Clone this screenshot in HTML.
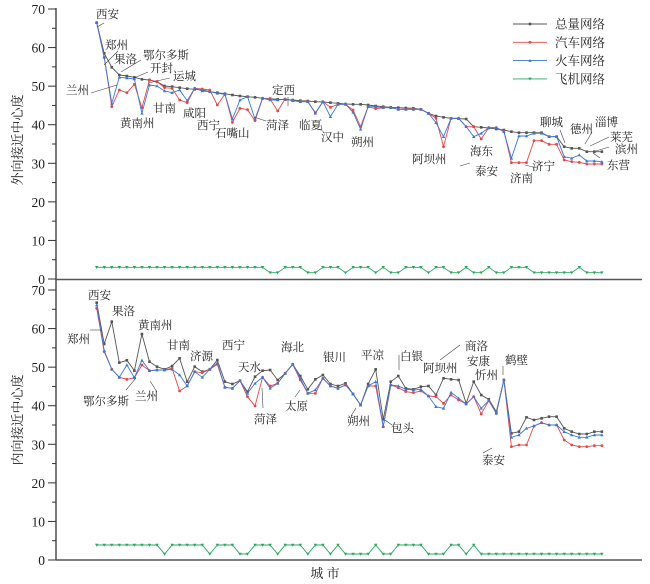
<!DOCTYPE html>
<html><head><meta charset="utf-8">
<style>
html,body{margin:0;padding:0;background:#fff;}
svg{display:block;}
text{font-family:"Liberation Serif","Noto Serif CJK SC",serif;fill:#222;}
.lb{font-size:11.5px;}
</style></head>
<body>
<svg id="s" width="650" height="584" viewBox="0 0 650 584" xmlns="http://www.w3.org/2000/svg">
<g id="axes" stroke="#333" fill="none"></g>
<g id="data"></g>
<g id="labels"></g>
<text x="22" y="140" font-size="13" transform="rotate(-90 22 140)" text-anchor="middle">外向接近中心度</text>
<text x="22" y="420" font-size="13" transform="rotate(-90 22 420)" text-anchor="middle">内向接近中心度</text>
<text x="325" y="578" font-size="13" text-anchor="middle">城 市</text>
<g id="legend"></g>
</svg>
<script>
var NS="http://www.w3.org/2000/svg";
function el(p,t,a,txt){var e=document.createElementNS(NS,t);for(var k in a)e.setAttribute(k,a[k]);if(txt)e.textContent=txt;p.appendChild(e);return e;}
var ax=document.getElementById('axes'),dg=document.getElementById('data'),lg=document.getElementById('labels'),leg=document.getElementById('legend');
el(ax,'line',{x1:56,y1:8,x2:56,y2:560,'stroke-width':1.3});
el(ax,'line',{x1:56,y1:279.5,x2:642,y2:279.5,'stroke-width':1.6,stroke:'#555'});
el(ax,'line',{x1:56,y1:560,x2:642,y2:560,'stroke-width':1.6,stroke:'#555'});
var S=3.857;
[[279,9],[560,290]].forEach(function(p){
 for(var v=0;v<=70;v+=5){var y=p[0]-v*S;var maj=v%10==0;
  el(ax,'line',{x1:maj?48:52,y1:y,x2:56,y2:y,'stroke-width':1});
  if(maj)el(document.getElementById('s'),'text',{x:45,y:y+5,'font-size':13.5,'text-anchor':'end'},String(v));}
});
function X(i){return 96.7+7.54*i;}
var N=68;
var tB=[68,160,202,225,228,232,238,240,245,258,260,263,266,268,270,275,278,281,285,288,290,292,295,296,298,299,300,302,303,305,306,308,310,312,313,313,315,318,320,322,323,324,325,328,340,348,352,355,356,357,380,382,384,387,390,395,398,398,398,398,410,410,440,445,445,455,455,455];
var tR=[68,172,320,270,278,253,323,240,245,263,265,300,308,265,267,270,315,283,367,325,329,362,295,297,333,297,302,305,305,338,305,322,313,313,330,380,320,326,323,323,328,328,328,328,340,355,440,355,355,380,380,417,383,383,393,488,488,488,422,422,433,433,480,485,487,492,492,492];
var tBl=[68,172,310,232,234,237,340,255,258,273,278,270,302,265,273,275,280,283,357,300,290,357,295,300,300,297,302,305,305,340,305,350,313,313,337,388,320,320,323,323,328,328,328,328,340,368,410,355,355,380,410,400,383,383,395,475,408,408,400,400,410,410,470,475,465,483,483,485];
var tGd=[23,24,28,29,33,37,39,40,44,47,48,50,51,53,54,58,59,60,61,62,63,65,66,67];
var bB=[68,192,125,248,241,272,162,245,260,268,258,235,305,260,275,268,240,305,312,302,335,290,272,270,300,280,253,288,328,298,285,312,318,310,342,375,312,268,418,305,288,325,328,320,318,345,295,298,300,370,305,345,358,395,300,460,455,412,420,415,410,410,445,455,462,462,455,455];
var bR=[85,215,268,292,298,293,255,272,270,270,265,333,318,275,278,268,253,322,325,302,350,378,292,318,310,280,253,300,340,340,295,318,325,315,342,375,318,318,440,315,323,335,338,333,348,350,370,345,360,372,350,402,362,400,300,500,495,495,438,428,435,435,480,495,500,500,497,497];
var bBl=[75,212,268,292,255,293,241,272,270,270,268,285,318,275,292,268,248,322,325,302,340,310,292,325,310,280,253,295,340,330,295,318,325,315,342,375,318,305,440,315,318,328,330,328,348,380,385,337,355,372,350,385,362,400,300,472,465,445,438,428,435,435,455,465,472,472,465,465];
var bGd=[9,15,19,20,24,28,31,33,34,35,36,38,39,44,45,46,49];
for(var i=51;i<68;i++)bGd.push(i);
function mark(p,x,y,col,mk){
  if(mk=='s')el(p,'rect',{x:x-1.3,y:y-1.3,width:2.6,height:2.6,fill:col});
  else if(mk=='c')el(p,'circle',{cx:x,cy:y,r:1.4,fill:col});
  else if(mk=='t')el(p,'path',{d:'M'+(x-1.7)+' '+(y+1.3)+'L'+(x+1.7)+' '+(y+1.3)+'L'+x+' '+(y-1.7)+'Z',fill:col});
  else el(p,'path',{d:'M'+(x-1.7)+' '+(y-1.3)+'L'+(x+1.7)+' '+(y-1.3)+'L'+x+' '+(y+1.7)+'Z',fill:col});
}
function series(arr,off,col,mk){
 var pts=arr.map(function(z,i){return X(i).toFixed(1)+','+(off+z/3).toFixed(1);}).join(' ');
 el(dg,'polyline',{points:pts,fill:'none',stroke:col,'stroke-width':0.9});
 arr.forEach(function(z,i){mark(dg,X(i),off+z/3,col,mk);});
}
var K='#555',R='#e8464a',B='#3a78d8',G='#2aa860';
var tG=[],bG=[];for(var i=0;i<N;i++){tG.push(tGd.indexOf(i)>=0?818:802);bG.push(bGd.indexOf(i)>=0?822:795);}
series(tB,0,K,'s');series(tR,0,R,'c');series(tBl,0,B,'t');series(tG,0,G,'v');
series(bB,280,K,'s');series(bR,280,R,'c');series(bBl,280,B,'t');series(bG,280,G,'v');
var L=[['西安',96,18],['郑州',105,49],['果洛',114,63],['鄂尔多斯',143,59],['开封',150,72],['运城',173,80],['兰州',66,94],['黄南州',120,127],['甘南',153,112],['咸阳',183,117],['西宁',197,129],['石嘴山',215,137],['菏泽',266,129],['定西',272,94],['临夏',299,129],['汉中',321,141],['朔州',351,146],['阿坝州',412,163],['海东',470,155],['泰安',475,175],['济南',510,182],['济宁',532,170],['聊城',540,126],['德州',570,133],['淄博',595,126],['莱芜',610,141],['滨州',615,153],['东营',607,169],
['西安',88,299],['果洛',112,315],['黄南州',138,329],['郑州',67,343],['甘南',167,349],['济源',190,360],['西宁',222,349],['天水',238,371],['海北',281,351],['银川',323,361],['鄂尔多斯',83,405],['兰州',135,400],['菏泽',254,423],['太原',285,410],['朔州',347,425],['平凉',361,359],['白银',400,360],['阿坝州',423,372],['商洛',465,350],['安康',467,365],['忻州',475,379],['鹤壁',505,364],['包头',391,432],['泰安',482,464]];
L.forEach(function(l){el(lg,'text',{x:l[1],y:l[2],class:'lb'},l[0]);});
var ln=[[91,93,117,85],[104,23,97,27],[118,51,104,65],[141,60,121,72],[148,72,134,78],[170,78,148,83],[266,121,254,117],[288,97,288,106],[322,131,321,125],[470,163,460,166],[537,168,525,165],[560,130,565,143],[592,132,585,144],[609,137,590,146],[609,147,596,151],[600,158,593,153],
[90,330,102,330],[126,390,136,378],[157,392,150,381],[263,408,262,388],[295,397,300,390],[351,416,356,408],[392,425,385,420],[399,355,399,370],[440,360,460,345],[503,366,503,375],[483,453,492,448]];
ln.forEach(function(a){el(lg,'line',{x1:a[0],y1:a[1],x2:a[2],y2:a[3],stroke:'#444','stroke-width':0.6});});
[['总量网络',K,'s'],['汽车网络',R,'c'],['火车网络',B,'t'],['飞机网络',G,'v']].forEach(function(r,k){
 var y=24+k*18.3;el(leg,'line',{x1:513,y1:y,x2:547,y2:y,stroke:r[1],'stroke-width':0.9});
 mark(leg,530,y,r[1],r[2]);
 el(leg,'text',{x:555,y:y+4.5,'font-size':12.5},r[0]);
});
</script>
</body></html>
